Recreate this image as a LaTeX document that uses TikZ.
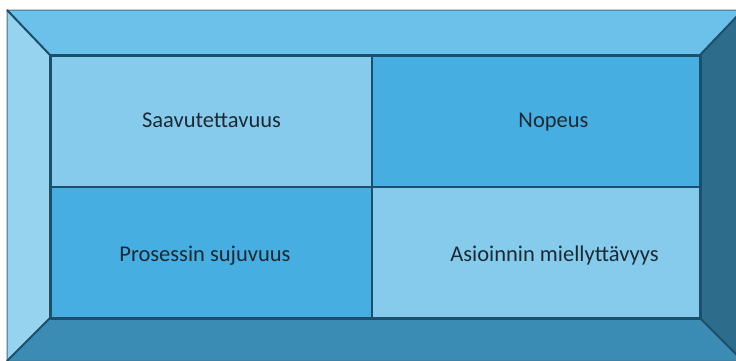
\documentclass[tikz,border=0pt]{standalone}
\usepackage{fontspec}
\setmainfont{Carlito}
\definecolor{obenb}{HTML}{6BC1E9}
\definecolor{linksb}{HTML}{95D3EF}
\definecolor{rechtsb}{HTML}{2D6D8B}
\definecolor{untenb}{HTML}{3B8CB5}
\definecolor{hell}{HTML}{86CBEC}
\definecolor{mittel}{HTML}{46AEE0}
\definecolor{rand}{HTML}{1C4F6B}
\definecolor{schrift}{HTML}{1B2A35}

\def\feld#1#2#3#4#5{
	\fill[#5] (#1,#2) rectangle (#3,#4);
}
\def\wort#1#2#3#4{
	\node (#1) at (#2,#3) [anchor=base,text=schrift,font=\fontsize{22.5}{27}\selectfont] {#4};
}

\begin{document}
\begin{tikzpicture}[x=1pt,y=-1pt,line join=round]
\useasboundingbox (0,0) rectangle (736,360);
\clip (0,0) rectangle (736,360);
% Rahmen
\filldraw[fill=obenb,draw=rand!80,line width=1] (7,10) -- (743,10) -- (700,55) -- (50,55) -- cycle;
\filldraw[fill=linksb,draw=rand!80,line width=1] (7,10) -- (50,55) -- (50,318) -- (7,361) -- cycle;
\filldraw[fill=rechtsb,draw=rand!80,line width=1] (743,10) -- (743,361) -- (700,318) -- (700,55) -- cycle;
\filldraw[fill=untenb,draw=rand!80,line width=1] (7,361) -- (743,361) -- (700,318) -- (50,318) -- cycle;
\draw[rand,line width=2] (7,10) -- (50,55) (743,10) -- (700,55) (7,361) -- (50,318) (743,361) -- (700,318);

% Felder
\feld{50}{55}{372}{187}{hell}
\feld{372}{55}{700}{187}{mittel}
\feld{50}{187}{372}{318}{mittel}
\feld{372}{187}{700}{318}{hell}
\draw[rand,line width=3] (50,55) rectangle (700,318);
\draw[rand,line width=2.5] (372,55) -- (372,318) (50,187) -- (700,187);

\wort{saav}{211.5}{127}{Saavutettavuus}
\wort{nop}{553.5}{127}{Nopeus}
\wort{pros}{205}{261.5}{Prosessin sujuvuus}
\wort{asi}{554.5}{261.5}{Asioinnin miellyttävyys}
\end{tikzpicture}
\end{document}
